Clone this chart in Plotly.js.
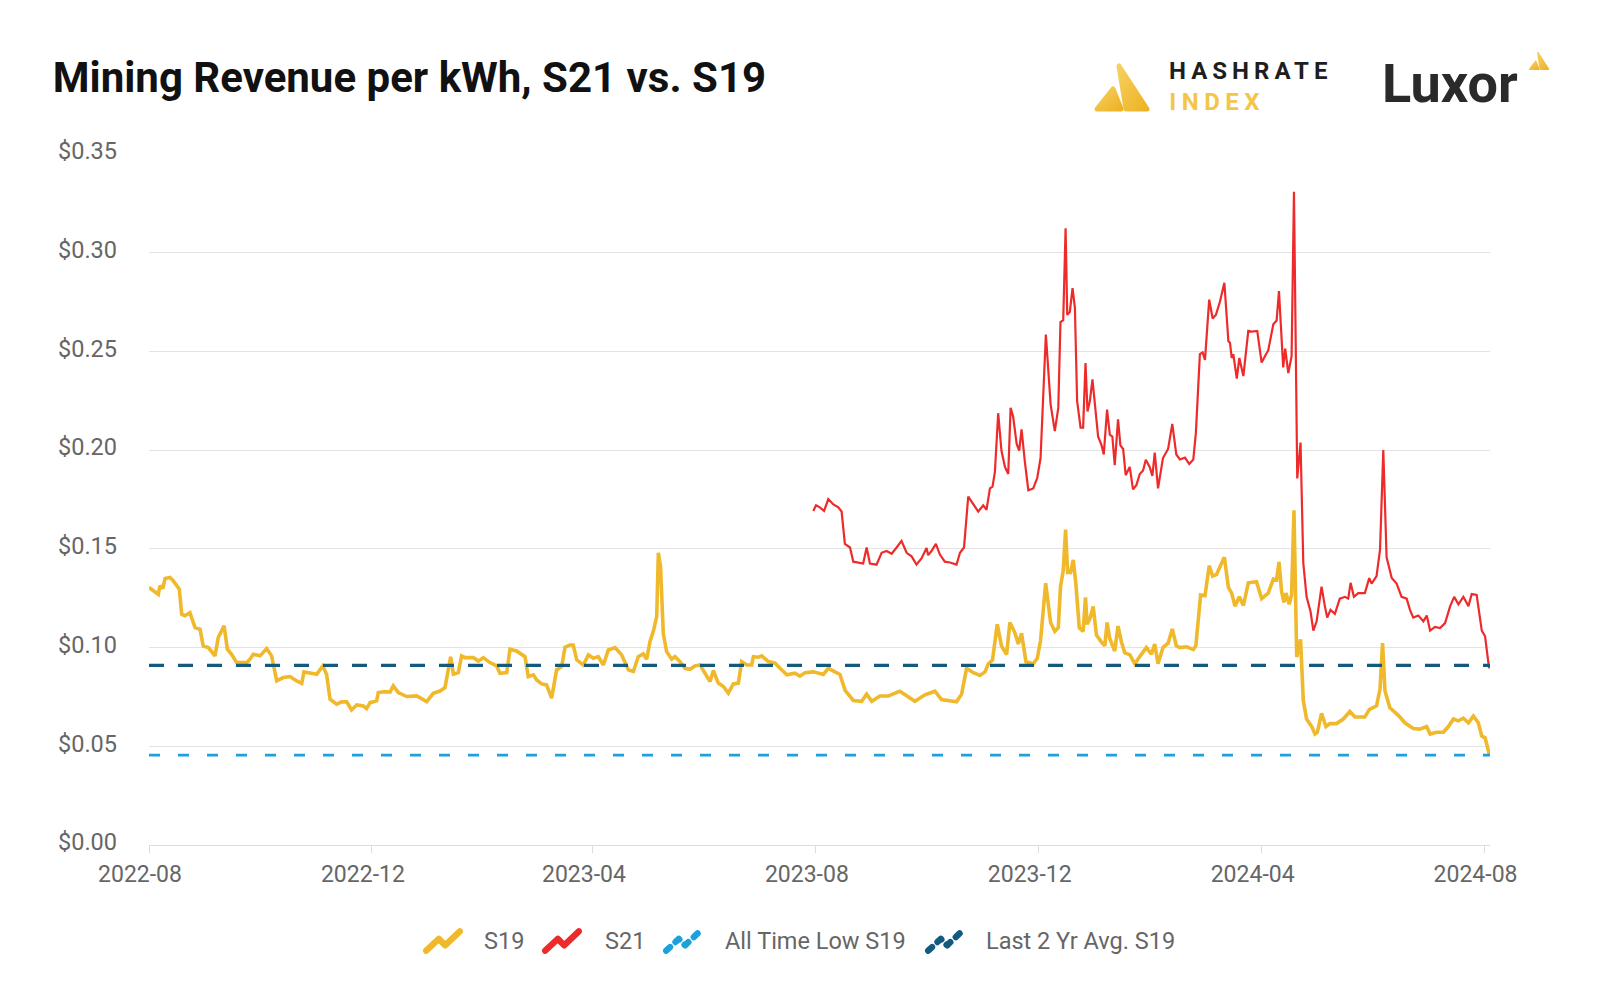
<!DOCTYPE html>
<html><head><meta charset="utf-8">
<script src="https://cdn.plot.ly/plotly-3.0.1.min.js"></script>
<style>html,body{margin:0;padding:0;background:#fff}#chart{width:1600px;height:1003px}</style>
</head><body><div id="chart"></div>
<script>
// ---- data ----
const startDate = '2022-08-01';          // day 0 of the day offsets below
const xRange = ['2022-08-01', '2024-08-04'];

// S19 revenue per kWh: day offset from startDate, value in USD
const s19Day = [0,2.4,5.1,6,7.5,8.8,11.5,13.3,16.6,17.9,19.7,22.4,25.2,27.9,29.7,32.5,36.1,37.9,41.1,42.9,45.2,48,53.5,55.3,57.1,60.8,64.4,67.1,69.9,73.5,77.2,80.8,83.6,84.8,88.1,91.8,95.1,97.2,99.1,102.7,105.5,108.2,110.9,113.7,117.3,119.1,121,124.6,125.5,129.2,131.9,133.7,136.5,141,146.5,152,155.6,159.3,162,163.8,165.1,166.6,169.3,171.1,173,177.5,180.3,183,186.6,190.3,192.1,195.8,197.6,201.2,
205.8,207.6,210.4,212.2,214.9,217.6,220.4,223.1,225.9,227.7,230.4,232.2,234.1,237.7,240.5,243.2,245.9,248.7,251.4,255.1,258.7,262.4,265.1,267.8,270.6,272.4,274.2,276,277.9,278.8,280,281.5,283.3,286.1,287.9,290.6,293.4,296.1,298.8,301.6,304.3,307.1,308.9,311.6,314.4,317.1,319.8,322.6,324.4,327.1,329.9,330.8,333.5,335.4,339,342.7,345.4,349.1,353.6,
356.3,359.1,363.6,369.1,371.8,378.2,381,385.5,390.1,392.8,395.6,400.1,404.7,411,414.7,419.2,424.7,430.2,433.8,442,444.8,447.5,451.2,454.8,457.6,459.4,461.7,464.3,466.6,469.4,471.2,473.9,475.8,477.6,480,484,486.2,488,490.8,493.5,495.8,497.7,498.9,500.4,501.7,502.8,504.4,505.9,507.3,509.2,511.3,512.6,513.5,515,516.8,518.6,521.4,523.2,524.4,525.9,528.6,530.4,532.3,534.1,536.8,539.6,542.3,545.9,548.7,550.5,552.3,555,557.8,560.1,562.3,
564.3,568,571.6,573,575.6,578,580.3,582.2,584.4,586.2,588.6,590.8,592.6,594.4,596.8,599,601.7,606.2,609,612.6,615.4,617.2,618.5,619.9,621.2,622.3,624.1,625.4,626.7,628.2,630.3,631.8,633.6,636.4,638.2,639.5,641.8,644.2,646.4,650,653.7,657.3,660.1,665.5,667.9,671.9,673.8,675.2,676.5,679.2,683.8,687.4,692,695.6,699.3,701.2,704.8,708.5,711.2,714,716.7,719.4,722.2,724.9,727.6,729.5,731.3,733.7];
const s19Value = [0.1304,0.1287,0.1270,0.1313,0.1299,0.1350,0.1355,0.1338,0.1296,0.1169,0.1161,0.1177,0.1101,0.1093,0.1008,0.1000,0.0958,0.1051,0.1110,0.0992,0.0966,0.0924,0.0924,0.0941,0.0966,0.0958,0.0995,0.0958,0.0831,0.0848,0.0853,0.0831,0.0819,0.0877,0.0873,0.0865,0.0907,0.0865,0.0738,0.0713,0.0725,0.0725,0.0684,0.0709,0.0704,0.0691,0.0721,0.0730,0.0772,0.0777,0.0775,0.0806,0.0772,0.0752,0.0755,0.0726,0.0768,0.0780,0.0797,0.0890,0.0953,0.0865,0.0873,0.0958,0.0949,0.0949,0.0932,0.0949,0.0924,0.0907,0.0870,0.0873,0.0992,0.0983,
0.0954,0.0853,0.0862,0.0836,0.0816,0.0811,0.0744,0.0887,0.0904,0.1002,0.1013,0.1013,0.0938,0.0912,0.0963,0.0946,0.0954,0.0912,0.0988,0.1000,0.0963,0.0887,0.0879,0.0954,0.0968,0.0941,0.1030,0.1081,0.1157,0.1480,0.1410,0.1072,0.0980,0.0941,0.0954,0.0929,0.0895,0.0890,0.0907,0.0912,0.0870,0.0828,0.0884,0.0820,0.0803,0.0769,0.0816,0.0820,0.0929,0.0912,0.0912,0.0954,0.0951,0.0958,0.0929,0.0921,0.0895,0.0862,0.0870,
0.0855,0.0873,0.0877,0.0864,0.0895,0.0864,0.0783,0.0732,0.0728,0.0764,0.0728,0.0755,0.0755,0.0779,0.0755,0.0728,0.0761,0.0779,0.0737,0.0725,0.0764,0.0895,0.0873,0.0859,0.0877,0.0918,0.0937,0.1118,0.1009,0.0964,0.1127,0.1076,0.1018,0.1072,0.0928,0.0918,0.0946,0.1036,0.1326,0.1127,0.1082,0.1100,0.1308,0.1390,0.1598,0.1381,0.1381,0.1444,0.1326,0.1100,0.1082,0.1254,0.1118,0.1145,0.1208,0.1063,0.1027,0.1009,0.1127,0.1045,0.0982,0.1109,0.1027,0.0973,0.0964,0.0918,0.0955,0.1000,0.0967,0.1018,0.0918,0.1000,0.1022,0.1094,0.1009,
0.1000,0.1004,0.0990,0.1010,0.1267,0.1263,0.1415,0.1362,0.1371,0.1410,0.1457,0.1305,0.1276,0.1210,0.1257,0.1213,0.1328,0.1333,0.1248,0.1276,0.1347,0.1343,0.1434,0.1286,0.1229,0.1276,0.1219,0.1267,0.1695,0.0952,0.1042,0.0733,0.0638,0.0600,0.0562,0.0571,0.0667,0.0600,0.0615,0.0615,0.0638,0.0676,0.0648,0.0648,0.0686,0.0705,0.0790,0.1023,0.0781,0.0695,0.0657,0.0619,0.0590,0.0587,0.0600,0.0562,0.0571,0.0571,0.0600,0.0638,0.0629,0.0642,0.0619,0.0653,0.0619,0.0552,0.0543,0.0457];

// S21 revenue per kWh: day offset from startDate, value in USD
const s21Day = [363.6,365.1,367.2,369.5,371.8,374.6,377.3,379.1,380.9,383.7,385.5,388.2,390.9,392.8,394.6,398.2,401,403.7,406.5,409.2,411.9,414.7,417.4,420.1,422.9,425.6,426.5,428.3,430.7,432.9,435.6,438.4,442,443.9,446.1,448.4,451.2,453.9,456.6,458.4,460.3,461.7,463,464.8,466.6,468.5,470.3,471.6,473,474.9,476.3,477.6,479.4,481.3,484,486.2,488,490.9,493.5,495.8,497.7,498.9,500.4,501.7,502.6,504,505.5,506.8,508,509.9,511.3,512.6,513.7,515,516.4,517.7,519.5,521.4,522.6,524.4,525.9,527.3,528.6,530.4,531.7,533.2,534.6,536.8,538.6,540.5,542.3,544.1,545.6,547.7,549.2,550.5,552.3,555,557.8,560.1,562.3,
564.3,567,569.4,571.6,573,575.2,576.7,578,580.3,582.2,584,586.2,588.6,590.8,591.7,592.6,593.5,595.4,596.8,599,601.7,603.5,606.6,609,611.4,612.6,615.4,617.2,618.5,619.9,620.8,621.9,623.6,625.4,626.7,628.5,630.3,631.8,633.6,635.8,637.3,639.1,641.8,643.6,644.9,646.7,649.1,651.8,654.6,656.4,657.7,659.5,661.9,665.5,667.9,669.2,671.9,673.8,675.6,677.4,680.2,682.9,685.6,688.4,690.2,692,694.8,697.5,699.4,701.2,703.9,706.7,709.4,712.2,714.4,716.7,719.4,722.2,724,726.7,729.5,731.3,732.2,733.5];
const s21Value = [0.1692,0.1721,0.1710,0.1692,0.1752,0.1725,0.1710,0.1689,0.1525,0.1507,0.1435,0.1431,0.1426,0.1507,0.1426,0.1420,0.1480,0.1489,0.1475,0.1507,0.1540,0.1480,0.1462,0.1420,0.1453,0.1504,0.1468,0.1489,0.1525,0.1471,0.1435,0.1431,0.1420,0.1480,0.1507,0.1765,0.1725,0.1689,0.1721,0.1698,0.1806,0.1815,0.1888,0.2187,0.1997,0.1915,0.1879,0.2214,0.2169,0.2033,0.1997,0.2105,0.1942,0.1797,0.1806,0.1860,0.1960,0.2586,0.2232,0.2096,0.2214,0.2649,0.2658,0.3124,0.2685,0.2700,0.2821,0.2721,0.2250,0.2114,0.2114,0.2441,0.2196,0.2250,0.2359,0.2241,0.2069,0.2024,0.1978,0.2205,0.2078,0.2069,0.1924,0.2156,0.2024,0.2006,0.1873,0.1915,0.1801,0.1824,0.1879,0.1897,0.1951,0.1915,0.1870,0.1988,0.1806,0.1960,0.2006,0.2133,0.1978,
0.1953,0.1962,0.1930,0.1953,0.2086,0.2486,0.2495,0.2457,0.2762,0.2667,0.2686,0.2753,0.2848,0.2553,0.2543,0.2467,0.2486,0.2362,0.2467,0.2375,0.2604,0.2600,0.2604,0.2444,0.2486,0.2505,0.2638,0.2657,0.2806,0.2524,0.2419,0.2514,0.2390,0.2476,0.3309,0.1857,0.2038,0.1429,0.1257,0.1181,0.1086,0.1133,0.1309,0.1210,0.1152,0.1191,0.1171,0.1248,0.1257,0.1248,0.1328,0.1257,0.1276,0.1276,0.1352,0.1324,0.1362,0.1495,0.2000,0.1457,0.1352,0.1324,0.1257,0.1248,0.1191,0.1152,0.1162,0.1133,0.1162,0.1086,0.1105,0.1099,0.1124,0.1210,0.1257,0.1219,0.1257,0.1210,0.1271,0.1267,0.1086,0.1057,0.1000,0.0895];

// horizontal reference levels
const allTimeLowS19 = 0.0455;
const last2YrAvgS19 = 0.091;
const refLineDates = ['2022-08-01', '2024-08-04'];

const seriesNames = ['S19', 'S21', 'All Time Low S19', 'Last 2 Yr Avg. S19'];
const seriesColors = ['#F0B92C', '#EE2B2B', '#1CA1DC', '#135A7D'];
const seriesDash = ['', '', '5,7', '5,7'];

// ---- build ----
const t0 = Date.parse(startDate + 'T00:00:00Z');
function dayToDate(d) {
  return new Date(t0 + d * 86400000).toISOString().slice(0, 19).replace('T', ' ');
}
const FONT = 'Roboto, "Noto Sans", "DejaVu Sans", sans-serif';

const traces = [
  { x: s19Day.map(dayToDate), y: s19Value, name: seriesNames[0], type: 'scatter', mode: 'lines',
    line: { color: seriesColors[0], width: 3.6, shape: 'linear' } },
  { x: s21Day.map(dayToDate), y: s21Value, name: seriesNames[1], type: 'scatter', mode: 'lines',
    line: { color: seriesColors[1], width: 2.2, shape: 'linear' } },
  { x: refLineDates, y: refLineDates.map(() => allTimeLowS19), name: seriesNames[2], type: 'scatter', mode: 'lines',
    line: { color: seriesColors[2], width: 2.6, dash: '11px,18px' } },
  { x: refLineDates, y: refLineDates.map(() => last2YrAvgS19), name: seriesNames[3], type: 'scatter', mode: 'lines',
    line: { color: seriesColors[3], width: 3.4, dash: '15px,14px' } }
];

function svgSrc(svg) { return 'data:image/svg+xml;charset=utf-8,' + encodeURIComponent(svg); }

// logo mark (two rounded triangles)
const markSrc = svgSrc('<svg xmlns="http://www.w3.org/2000/svg" viewBox="0 0 60 53">' +
  '<defs><linearGradient id="g" x1="0" y1="0" x2="1" y2="1">' +
  '<stop offset="0" stop-color="#F7D060"/><stop offset="1" stop-color="#EDB225"/></linearGradient></defs>' +
  '<g fill="url(#g)" stroke="url(#g)" stroke-width="5" stroke-linejoin="round">' +
  '<polygon points="5,48 21,28 29,48"/><polygon points="27,5 34,48 55,48"/></g></svg>');

// legend zigzag icons
function iconSrc(color, dash) {
  return svgSrc('<svg xmlns="http://www.w3.org/2000/svg" viewBox="0 0 40 26">' +
    '<path d="M4,22 L16,11 L22,17 L36,4" fill="none" stroke="' + color + '" stroke-width="6" ' +
    'stroke-linecap="round" stroke-linejoin="round"' + (dash ? ' stroke-dasharray="' + dash + '"' : '') + '/></svg>');
}

// helpers: pixel -> paper (plot area 149..1490 x 154..845)
const PL = 149, PW = 1341, PB = 845, PH = 691;
const px = v => (v - PL) / PW;
const py = v => (PB - v) / PH;

const legendIconX = [422, 541, 662, 924];
const legendTextX = [482, 602.5, 722.5, 983.5];
const legendY = 941;

const images = [
  { source: markSrc, xref: 'paper', yref: 'paper', x: px(1092), y: py(61), sizex: 60 / PW, sizey: 53 / PH,
    xanchor: 'left', yanchor: 'top', sizing: 'stretch', layer: 'above' },
  { source: markSrc, xref: 'paper', yref: 'paper', x: px(1528), y: py(51), sizex: 22 / PW, sizey: 20 / PH,
    xanchor: 'left', yanchor: 'top', sizing: 'stretch', layer: 'above' }
];
const annotations = [
  { text: 'HASHRATE', xref: 'paper', yref: 'paper', x: px(1187), y: py(71.3), xanchor: 'left', yanchor: 'middle',
    showarrow: false, font: { family: FONT, size: 24, color: '#1e1e1e', weight: 'bold' } },
  { text: 'INDEX', xref: 'paper', yref: 'paper', x: px(1181), y: py(102.5), xanchor: 'left', yanchor: 'middle',
    showarrow: false, font: { family: FONT, size: 24, color: '#F4C548', weight: 'bold' } },
  { text: 'Luxor', xref: 'paper', yref: 'paper', x: px(1380), y: py(83.5), xanchor: 'left', yanchor: 'middle',
    showarrow: false, font: { family: FONT, size: 54, color: '#2a2a2a', weight: 'bold' } }
];
seriesNames.forEach(function (name, i) {
  images.push({ source: iconSrc(seriesColors[i], seriesDash[i]), xref: 'paper', yref: 'paper',
    x: px(legendIconX[i]), y: py(legendY - 14), sizex: 42 / PW, sizey: 28 / PH,
    xanchor: 'left', yanchor: 'top', sizing: 'stretch', layer: 'above' });
  annotations.push({ text: name, xref: 'paper', yref: 'paper', x: px(legendTextX[i]), y: py(legendY),
    xanchor: 'left', yanchor: 'middle', showarrow: false,
    font: { family: FONT, size: 23.5, color: '#666666' } });
});

const layout = {
  width: 1600, height: 1003,
  paper_bgcolor: '#ffffff', plot_bgcolor: '#ffffff',
  margin: { l: 149, r: 110, t: 154, b: 158 },
  font: { family: FONT, color: '#666666' },
  title: {
    text: 'Mining Revenue per kWh, S21 vs. S19',
    font: { family: FONT, size: 42, color: '#111111', weight: 'bold' },
    xref: 'container', yref: 'container', x: 0.033, xanchor: 'left', y: 0.9227, yanchor: 'middle'
  },
  xaxis: {
    type: 'date', range: xRange, tick0: '2022-08-01', dtick: 'M4', tickformat: '%Y-%m',
    showgrid: false, zeroline: false, showline: true, linecolor: '#dddddd', linewidth: 1,
    ticks: 'outside', ticklen: 7, tickcolor: '#dddddd', tickwidth: 1,
    tickfont: { family: FONT, size: 23, color: '#666666' },
    ticklabelshift: -9, ticklabelstandoff: 1, fixedrange: true
  },
  yaxis: {
    range: [0, 0.35], dtick: 0.05, tick0: 0, tickformat: '$.2f',
    showgrid: true, gridcolor: '#e3e3e3', gridwidth: 1, zeroline: false, showline: false,
    ticks: '', tickfont: { family: FONT, size: 23.5, color: '#666666' },
    ticklabelstandoff: 31, ticklabelshift: -3, fixedrange: true
  },
  showlegend: false,
  images: images,
  annotations: annotations,
  hovermode: false
};

Plotly.newPlot('chart', traces, layout, { displayModeBar: false, staticPlot: true }).then(function () {
  document.querySelectorAll('.annotation-text').forEach(function (t) {
    if (t.textContent === 'HASHRATE') t.style.letterSpacing = '5px';
    if (t.textContent === 'INDEX') t.style.letterSpacing = '5.5px';
  });
});
</script>
</body></html>
